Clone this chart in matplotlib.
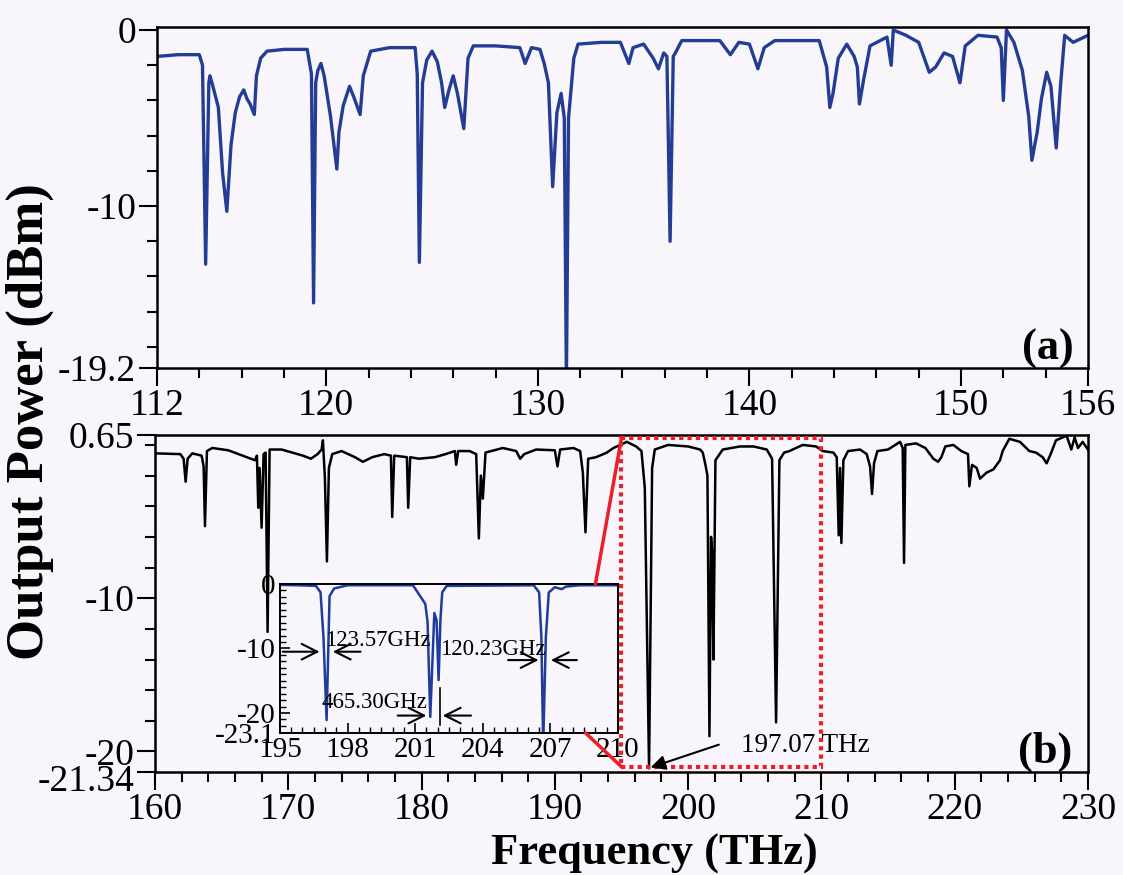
import numpy as np
import matplotlib
matplotlib.use("Agg")
import matplotlib.pyplot as plt
import matplotlib.transforms as mtransforms
from matplotlib.patches import Rectangle, ConnectionPatch

# panel (a) spectrum
freq_a = [112.0, 113.0, 114.0, 114.15, 114.3, 114.45, 114.5, 114.6, 114.9, 115.1, 115.3, 115.5,
          115.7, 115.9, 116.1, 116.25, 116.4, 116.6, 116.7, 116.9, 117.2, 118.0, 119.1, 119.3,
          119.4, 119.5, 119.6, 119.75, 119.9, 120.2, 120.5, 120.6, 120.8, 121.1, 121.3, 121.6,
          121.75, 122.1, 123.0, 124.2, 124.3, 124.4, 124.55, 124.75, 125.0, 125.25, 125.45, 125.6,
          125.8, 126.0, 126.2, 126.5, 126.7, 126.95, 128.0, 129.15, 129.4, 129.7, 130.1, 130.3,
          130.5, 130.7, 130.9, 131.1, 131.25, 131.35, 131.45, 131.7, 131.9, 133.0, 133.9, 134.1,
          134.3, 134.5, 135.0, 135.45, 135.7, 135.95, 136.1, 136.25, 136.4, 136.5, 136.8, 138.6,
          139.1, 139.5, 140.0, 140.4, 140.7, 141.2, 143.3, 143.65, 143.8, 143.95, 144.2, 144.6,
          144.95, 145.1, 145.2, 145.4, 145.7, 146.5, 146.7, 146.8, 147.4, 148.0, 148.5, 148.8,
          149.2, 149.6, 149.95, 150.2, 150.8, 151.7, 151.9, 152.0, 152.15, 152.5, 152.9, 153.2,
          153.35, 153.6, 153.8, 154.05, 154.25, 154.5, 154.7, 154.9, 155.3, 156.0]
power_a = [-1.5, -1.4, -1.4, -2.0, -13.3, -3.0, -2.6, -3.0, -4.4, -8.1, -10.3, -6.5,
           -4.7, -3.8, -3.4, -3.9, -4.2, -4.8, -2.6, -1.6, -1.2, -1.1, -1.1, -2.5,
           -15.5, -3.0, -2.3, -1.9, -2.6, -4.9, -7.9, -5.8, -4.3, -3.2, -3.8, -4.8,
           -2.6, -1.2, -1.0, -1.0, -2.5, -13.2, -3.0, -1.7, -1.2, -1.8, -3.0, -4.4,
           -3.4, -2.6, -3.6, -5.6, -1.6, -0.9, -0.9, -1.0, -1.9, -1.0, -1.1, -1.9,
           -3.0, -8.9, -4.7, -3.6, -5.0, -20.0, -5.0, -1.6, -0.8, -0.7, -0.7, -1.3,
           -1.9, -1.0, -0.8, -1.6, -2.2, -1.3, -1.5, -12.0, -1.5, -1.3, -0.6, -0.6,
           -1.4, -0.7, -0.8, -2.2, -1.0, -0.6, -0.6, -2.1, -4.4, -3.6, -1.6, -0.8,
           -1.5, -2.1, -4.2, -2.8, -0.9, -0.4, -2.0, 0.0, -0.3, -0.7, -2.4, -2.1,
           -1.3, -1.5, -3.0, -0.9, -0.3, -0.4, -1.0, -4.0, 0.0, -0.7, -2.3, -4.9,
           -7.4, -5.8, -3.9, -2.4, -3.2, -6.7, -3.2, -0.3, -0.7, -0.3]

# panel (b) spectrum
freq_b = [160.0, 161.9, 162.15, 162.3, 162.45, 162.8, 163.5, 163.65, 163.75, 163.9, 164.3, 165.5,
          166.9, 167.5, 167.65, 167.75, 167.85, 168.0, 168.15, 168.3, 168.45, 168.6, 169.5, 171.1,
          171.7, 172.2, 172.5, 172.6, 172.75, 172.9, 173.05, 173.3, 174.0, 175.0, 175.6, 176.3,
          177.2, 177.7, 177.8, 177.95, 178.9, 179.0, 179.15, 179.8, 181.0, 181.8, 182.5, 182.6,
          182.75, 183.6, 184.1, 184.3, 184.45, 184.6, 184.8, 186.1, 187.1, 187.4, 187.7, 188.6,
          190.0, 190.2, 190.4, 191.4, 191.9, 192.1, 192.3, 192.5, 193.1, 193.9, 194.4, 195.4,
          196.1, 196.5, 196.75, 197.07, 197.3, 197.5, 198.5, 200.0, 200.9, 201.1, 201.3, 201.45,
          201.6, 201.72, 201.8, 201.9, 202.05, 202.6, 203.9, 204.9, 205.9, 206.3, 206.6, 206.85,
          207.2, 207.6, 208.6, 209.6, 210.1, 210.9, 211.15, 211.3, 211.4, 211.5, 211.65, 212.0,
          212.9, 213.4, 213.65, 213.8, 213.95, 214.2, 215.0, 215.9, 216.1, 216.2, 216.3, 217.1,
          217.8, 218.4, 218.75, 219.0, 219.3, 219.9, 220.5, 221.0, 221.1, 221.3, 221.65, 221.9,
          222.4, 222.9, 223.4, 223.6, 224.1, 224.9, 225.6, 226.1, 226.6, 226.9, 227.2, 227.6,
          228.4, 228.75, 229.0, 229.25, 229.6, 230.0]
power_b = [-0.55, -0.6, -0.9, -2.4, -0.9, -0.55, -0.7, -1.4, -5.3, -0.4, -0.2, -0.35,
           -0.8, -1.0, -0.7, -4.1, -1.5, -5.4, -0.6, -0.5, -12.2, -0.3, -0.3, -0.7,
           -0.9, -0.6, -0.3, 0.3, -2.2, -7.6, -1.5, -0.6, -0.4, -0.8, -1.1, -0.8,
           -0.6, -0.7, -4.7, -0.7, -0.8, -4.1, -0.8, -0.9, -0.8, -0.6, -0.4, -1.3,
           -0.4, -0.4, -0.6, -6.1, -2.0, -3.5, -0.5, -0.2, -0.4, -0.9, -0.6, -0.3,
           -0.35, -1.4, -0.3, -0.2, -0.4, -1.8, -5.7, -0.9, -0.8, -0.5, -0.2, 0.2,
           -0.1, -0.4, -2.8, -21.1, -1.5, -0.3, 0.0, -0.1, -0.3, -0.5, -1.3, -2.0,
           -19.0, -6.0, -7.0, -14.0, -1.0, -0.3, -0.1, -0.1, -0.3, -0.9, -18.1, -1.0,
           -0.5, -0.4, 0.0, -0.1, -0.4, -0.5, -0.8, -5.9, -1.5, -6.4, -1.0, -0.4,
           -0.3, -0.6, -1.4, -3.2, -1.2, -0.4, -0.3, 0.2, -0.2, -7.7, 0.0, 0.1,
           -0.2, -0.9, -1.1, -0.8, -0.1, 0.0, -0.4, -0.6, -2.7, -1.3, -1.5, -2.2,
           -1.8, -1.6, -1.0, -0.4, 0.4, 0.2, -0.4, -0.5, -0.8, -1.2, -0.6, 0.3,
           0.6, -0.3, 0.5, -0.2, 0.2, -0.3]

# inset, 195-210 THz
freq_in = [195.0, 195.8, 196.6, 196.8, 196.93, 197.07, 197.2, 197.4, 198.0, 200.9, 201.15, 201.3,
           201.45, 201.55, 201.67, 201.85, 201.95, 202.04, 202.12, 202.2, 202.4, 206.26, 206.5, 206.6,
           206.68, 206.8, 206.93, 207.2, 207.5, 207.7, 208.3, 210.0]
power_in = [-0.15, -0.2, -0.3, -1.3, -8.2, -21.1, -1.9, -0.7, -0.2, -0.2, -1.5, -2.3,
            -3.1, -5.9, -20.6, -4.5, -5.6, -14.9, -5.6, -1.3, -0.3, -0.2, -1.3, -8.2,
            -25.0, -8.2, -1.3, -0.5, -0.8, -0.4, -0.2, -0.2]

a_xticks = [112, 120, 130, 140, 150, 156]
a_yticks = [0, -10, -19.2]
a_ylabels = ["0", "-10", "-19.2"]
b_xticks = [160, 170, 180, 190, 200, 210, 220, 230]
b_yticks = [0.65, -10, -20, -21.34]
b_ylabels = ["0.65", "-10", "-20", "-21.34"]
in_xticks = [195, 198, 201, 204, 207, 210]
in_yticks = [0, -10, -20, -23.1]
in_ylabels = ["0", "-10", "-20", "-23.1"]

plt.rcParams["font.family"] = "Liberation Serif"
plt.rcParams["axes.unicode_minus"] = False
plt.rcParams["axes.linewidth"] = 1.8

bg = "#f8f6fb"
red = "#e8202a"

fig = plt.figure(figsize=(11.23, 8.75), dpi=100, facecolor=bg)
ax1 = fig.add_axes([0.1398, 0.5794, 0.829, 0.3897], facecolor=bg)
ax2 = fig.add_axes([0.138, 0.1177, 0.8308, 0.3852], facecolor=bg)
axin = fig.add_axes([0.2493, 0.1623, 0.301, 0.1703], facecolor=bg)

ax1.plot(freq_a, power_a, color="#233d94", lw=2.4)
ax1.set_xlim(112, 156)
ax1.set_ylim(-19.2, 0.17)
ax1.set_xticks(a_xticks)
ax1.set_xticks(np.arange(114, 156, 2), minor=True)
ax1.set_yticks(a_yticks)
ax1.set_yticklabels(a_ylabels)
ax1.set_yticks(np.arange(-18, 0, 2), minor=True)
ax1.text(0.957, 0.055, "(a)", transform=ax1.transAxes, fontsize=32, fontweight="bold",
         ha="center", va="center")

ax2.plot(freq_b, power_b, color="black", lw=1.8)
ax2.set_xlim(160, 230)
ax2.set_ylim(-21.34, 0.65)
ax2.set_xticks(b_xticks)
ax2.set_xticks(np.arange(162, 230, 2), minor=True)
ax2.set_yticks(b_yticks)
ax2.set_yticklabels(b_ylabels)
ax2.set_yticks(np.arange(-20, 1, 2), minor=True)
ax2.text(0.954, 0.06, "(b)", transform=ax2.transAxes, fontsize=32, fontweight="bold",
         ha="center", va="center")

for ax in [ax1, ax2]:
    ax.tick_params(which="major", direction="out", length=13, width=1.5, labelsize=27, pad=2)
    ax.tick_params(which="minor", direction="out", length=7, width=1.5)

# bottom label sits a little lower than its tick, as in the original
low = ax2.get_yticklabels()[3]
low.set_transform(low.get_transform() + mtransforms.ScaledTranslation(0, -6 / 100, fig.dpi_scale_trans))

ax2.add_patch(Rectangle((195, -21.0), 15, 21.45, fill=False, ec=red, lw=3,
                        ls=(0, (1, 1)), zorder=3))
ax2.annotate("", xy=(196.99, -21.1), xytext=(202.5, -19.5),
             arrowprops=dict(arrowstyle="-|>", color="black", lw=1.5, mutation_scale=22))
ax2.text(204.0, -19.6, "197.07 THz", fontsize=19.5, va="center", ha="left")

axin.plot(freq_in, power_in, color="#1f3b9c", lw=1.8)
axin.set_xlim(195, 210)
axin.set_ylim(-23.1, 0)
axin.set_xticks(in_xticks)
axin.set_xticks(np.arange(195, 210.1, 0.5), minor=True)
axin.set_yticks(in_yticks)
axin.set_yticklabels(in_ylabels)
axin.set_yticks(np.arange(-22, 0, 1), minor=True)
axin.tick_params(which="major", direction="in", length=7, width=1.2, labelsize=21, pad=3)
axin.tick_params(which="minor", direction="in", length=4, width=1.0)
for s in axin.spines.values():
    s.set_linewidth(1.4)

arrow = dict(arrowstyle="->", color="black", lw=1.5, mutation_scale=28)
axin.annotate("", xy=(196.88, -10.5), xytext=(195.0, -10.5), arrowprops=arrow, annotation_clip=False)
axin.annotate("", xy=(197.22, -10.5), xytext=(198.7, -10.5), arrowprops=arrow, annotation_clip=False)
axin.text(197.0, -8.7, "123.57GHz", fontsize=16.5, ha="left", va="center")
axin.annotate("", xy=(206.6, -11.8), xytext=(205.0, -11.8), arrowprops=arrow, annotation_clip=False)
axin.annotate("", xy=(206.9, -11.8), xytext=(208.3, -11.8), arrowprops=arrow, annotation_clip=False)
axin.text(202.1, -10.2, "120.23GHz", fontsize=16.5, ha="left", va="center")
axin.annotate("", xy=(201.62, -20.4), xytext=(200.1, -20.4), arrowprops=arrow, annotation_clip=False)
axin.annotate("", xy=(202.1, -20.4), xytext=(203.6, -20.4), arrowprops=arrow, annotation_clip=False)
axin.plot([202.1, 202.1], [-16.1, -21.9], color="black", lw=1.2)
axin.text(196.85, -18.3, "465.30GHz", fontsize=16.5, ha="left", va="center")

con1 = ConnectionPatch(xyA=(209.0, 0), coordsA=axin.transData, xyB=(195, 0.45),
                       coordsB=ax2.transData, color=red, lw=2.5)
con2 = ConnectionPatch(xyA=(208.56, -23.1), coordsA=axin.transData, xyB=(195, -21.0),
                       coordsB=ax2.transData, color=red, lw=2.5)
fig.add_artist(con1)
fig.add_artist(con2)

fig.text(0.027, 0.518, "Output Power (dBm)", rotation=90, fontsize=38, fontweight="bold",
         ha="center", va="center")
fig.text(0.583, 0.024, "Frequency (THz)", fontsize=32, fontweight="bold",
         ha="center", va="center")

fig.savefig("out.png", dpi=100, facecolor=bg)
